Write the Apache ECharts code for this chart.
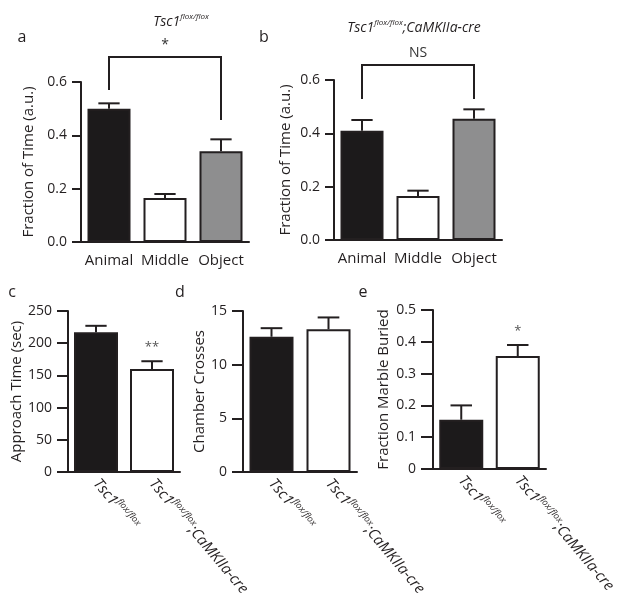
<!DOCTYPE html>
<html>
<head>
<meta charset="utf-8">
<script src="https://cdn.jsdelivr.net/npm/echarts@6/dist/echarts.min.js"></script>
<style>html,body{margin:0;padding:0;background:#fff}#c{width:624px;height:613px}</style>
</head>
<body>
<div id="c"></div>
<script>
// ---- data ----
var catsTop = ['Animal', 'Middle', 'Object'];
var catsBottom = ['Tsc1flox/flox', 'Tsc1flox/flox;CaMKIIa-cre'];
var colorsTop = ['#1c1a1b', '#ffffff', '#8e8e8f'];
var colorsBottom = ['#1c1a1b', '#ffffff'];

var fracA = [0.50, 0.165, 0.34];
var fracAErr = [0.52, 0.18, 0.385];
var fracB = [0.41, 0.165, 0.455];
var fracBErr = [0.45, 0.185, 0.49];
var approach = [217, 160];
var approachErr = [227, 172];
var crosses = [12.6, 13.3];
var crossesErr = [13.4, 14.4];
var marble = [0.155, 0.355];
var marbleErr = [0.2, 0.39];

var sigC = ['', '**'];
var sigD = ['', ''];
var sigE = ['', '*'];
// bracket: [fromCat, toCat, leftLegEnd, top, rightLegEnd]
var bracketA = [0, 2, 0.57, 0.694, 0.4575];
var bracketB = [0, 2, 0.529, 0.656, 0.529];
var sigA = '*';
var sigB = 'NS';

// ---- styling ----
var FONT = 'Open Sans';
var INK = '#231f20';

function barSeries(idx, vals, cols, bw) {
  return {
    type: 'bar', xAxisIndex: idx, yAxisIndex: idx, barWidth: bw,
    data: vals.map(function (v, i) {
      return { value: v, itemStyle: { color: cols[i] } };
    }),
    itemStyle: { borderColor: INK, borderWidth: 2 },
    silent: true, z: 2
  };
}
function errSeries(idx, vals, errs, sigs) {
  return {
    type: 'custom', xAxisIndex: idx, yAxisIndex: idx, z: 3, silent: true,
    data: vals.map(function (v, i) { return [i, v, errs[i]]; }),
    renderItem: function (params, api) {
      var x = api.value(0), y = api.value(1), e = api.value(2);
      var p0 = api.coord([x, y]), p1 = api.coord([x, e]);
      var w = api.size([1, 0])[0] * 0.19;
      var ch = [
        { type: 'line', shape: { x1: p0[0], y1: p0[1], x2: p1[0], y2: p1[1] }, style: { stroke: INK, lineWidth: 2 } },
        { type: 'line', shape: { x1: p1[0] - w, y1: p1[1], x2: p1[0] + w, y2: p1[1] }, style: { stroke: INK, lineWidth: 2 } }
      ];
      var s = sigs ? sigs[params.dataIndex] : '';
      if (s) {
        ch.push({ type: 'text', x: p1[0], y: p1[1] - 14, style: { text: s, fontFamily: FONT, fontSize: 13, fill: '#555', align: 'center', verticalAlign: 'middle' } });
      }
      return { type: 'group', children: ch };
    }
  };
}
function bracketSeries(idx, br, sig) {
  return {
    type: 'custom', xAxisIndex: idx, yAxisIndex: idx, z: 3, silent: true, clip: false,
    data: [br],
    renderItem: function (params, api) {
      var a = api.coord([api.value(0), api.value(2)]);
      var b = api.coord([api.value(0), api.value(3)]);
      var c = api.coord([api.value(1), api.value(3)]);
      var d = api.coord([api.value(1), api.value(4)]);
      return { type: 'group', children: [
        { type: 'polyline', shape: { points: [a, b, c, d] }, style: { stroke: INK, lineWidth: 2, fill: null } },
        { type: 'text', x: (b[0] + c[0]) / 2, y: b[1] - 12, style: { text: sig, fontFamily: FONT, fontSize: 14, fill: '#333', align: 'center', verticalAlign: 'middle' } }
      ] };
    }
  };
}
function yAx(idx, min, max, interval, name, gap, fmt, tickLen) {
  return {
    gridIndex: idx, type: 'value', min: min, max: max, interval: interval,
    name: name, nameLocation: 'middle', nameGap: gap,
    nameTextStyle: { fontFamily: FONT, fontSize: 15, color: INK },
    axisLine: { show: true, lineStyle: { color: INK, width: 2 } },
    axisTick: { show: true, length: tickLen, lineStyle: { color: INK, width: 2 } },
    axisLabel: { fontFamily: FONT, fontSize: 14, color: INK, margin: tickLen + 5, formatter: fmt },
    splitLine: { show: false }
  };
}
var richX = {
  i: { fontFamily: FONT, fontSize: 15, fontStyle: 'italic', color: INK, lineHeight: 19 },
  s: { fontFamily: FONT, fontSize: 9, fontStyle: 'italic', color: INK, verticalAlign: 'top', lineHeight: 19 }
};
function xAx(idx, cats, bottom) {
  var o = {
    gridIndex: idx, type: 'category', data: cats,
    axisLine: { show: true, lineStyle: { color: INK, width: 2 } },
    axisTick: { show: false },
    axisLabel: { fontFamily: FONT, fontSize: 15, color: INK, margin: 11, interval: 0 }
  };
  if (bottom) {
    o.axisLabel = {
      interval: 0, rotate: -50, margin: 9, rich: richX,
      formatter: function (v) {
        var rest = v.replace('Tsc1flox/flox', '');
        return '{i|Tsc1}{s|flox/flox}' + (rest ? '{i|' + rest + '}' : '');
      }
    };
  }
  return o;
}
function letter(t, x, y) {
  return { type: 'text', x: x, y: y, style: { text: t, fontFamily: FONT, fontSize: 16, fill: INK, align: 'center', verticalAlign: 'middle' } };
}
var f1 = function (v) { return v.toFixed(1); };
var richTitle = {
  i: { fontFamily: FONT, fontSize: 14, fontStyle: 'italic', fontWeight: 'normal', color: INK, lineHeight: 18 },
  s: { fontFamily: FONT, fontSize: 8, fontStyle: 'italic', fontWeight: 'normal', color: INK, verticalAlign: 'top', lineHeight: 18 }
};

var chart = echarts.init(document.getElementById('c'));
chart.setOption({
  backgroundColor: '#fff',
  animation: false,
  title: [
    { text: '{i|Tsc1}{s|flox/flox}', left: 176, top: 8, textAlign: 'center', textStyle: { fontWeight: 'normal', rich: richTitle } },
    { text: '{i|Tsc1}{s|flox/flox}{i|;CaMKIIa-cre}', left: 409, top: 14, textAlign: 'center', textStyle: { fontWeight: 'normal', rich: richTitle } }
  ],
  graphic: [letter('a', 22, 37), letter('b', 264, 37), letter('c', 12, 292), letter('d', 180, 292), letter('e', 363, 292)],
  grid: [
    { left: 81, top: 82, width: 168, height: 160 },
    { left: 334, top: 80, width: 168, height: 160 },
    { left: 68, top: 311, width: 112, height: 161 },
    { left: 243, top: 311, width: 114, height: 161 },
    { left: 433, top: 310, width: 113, height: 159 }
  ],
  xAxis: [xAx(0, catsTop), xAx(1, catsTop), xAx(2, catsBottom, true), xAx(3, catsBottom, true), xAx(4, catsBottom, true)],
  yAxis: [
    yAx(0, 0, 0.6, 0.2, 'Fraction of Time (a.u.)', 45, f1, 9),
    yAx(1, 0, 0.6, 0.2, 'Fraction of Time (a.u.)', 41, f1, 9),
    yAx(2, 0, 250, 50, 'Approach Time (sec)', 43, null, 11),
    yAx(3, 0, 15, 5, 'Chamber Crosses', 30, null, 11),
    yAx(4, 0, 0.5, 0.1, 'Fraction Marble Buried', 42, null, 12)
  ],
  series: [
    barSeries(0, fracA, colorsTop, 43), errSeries(0, fracA, fracAErr), bracketSeries(0, bracketA, sigA),
    barSeries(1, fracB, colorsTop, 43), errSeries(1, fracB, fracBErr), bracketSeries(1, bracketB, sigB),
    barSeries(2, approach, colorsBottom, 44), errSeries(2, approach, approachErr, sigC),
    barSeries(3, crosses, colorsBottom, 44), errSeries(3, crosses, crossesErr, sigD),
    barSeries(4, marble, colorsBottom, 44), errSeries(4, marble, marbleErr, sigE)
  ]
});
</script>
</body>
</html>
